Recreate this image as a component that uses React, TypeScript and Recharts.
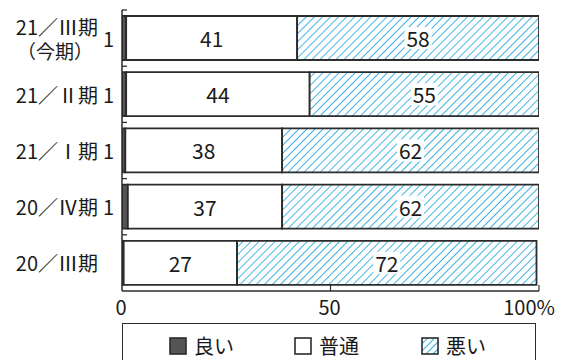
import React from "react";
import { BarChart, Bar, XAxis, YAxis, LabelList, Legend } from "recharts";

const categories = ["21／Ⅲ期\n（今期）", "21／Ⅱ期", "21／Ⅰ期", "20／Ⅳ期", "20／Ⅲ期"];
const good = [1, 1, 0.8, 1.4, 0.4];
const normal = [41, 44, 37.6, 37, 27.2];
const bad = [58, 55, 61.6, 61.6, 71.8];
const xTicks = [0, 50, 100];
const xTickLabels = ["0", "50", "100%"];
const seriesNames = ["良い", "普通", "悪い"];

const data = categories.map((name, i) => ({ name, good: good[i], normal: normal[i], bad: bad[i] }));

const FONT = "'Noto Sans CJK JP', 'Noto Sans', sans-serif";
const TEXT = "#1a1a1a";
const LINE = "#2b2b2b";
const HATCH = "#1fa9e1";
const W = 564;
const H = 360;
const M = { top: 10, right: 25, left: 0, bottom: 39 };
const X_AXIS_H = 30;
const PLOT_H = H - M.top - M.bottom - X_AXIS_H;
const BAND = PLOT_H / categories.length;

const YTick = (props: any) => {
  const { x, y, payload } = props;
  const lines = String(payload.value).split("\n");
  const tx = x - 24;
  return (
    <g>
      <line x1={x} y1={y - BAND / 2} x2={x + 5} y2={y - BAND / 2} stroke={LINE} strokeWidth={1.3} />
      {lines.length === 1 ? (
        <text x={tx} y={y} textAnchor="end" dominantBaseline="central" fontSize={20} fill={TEXT} fontFamily={FONT}>
          {lines[0]}
        </text>
      ) : (
        <g>
          <text x={tx} y={y - 12} textAnchor="end" dominantBaseline="central" fontSize={20} fill={TEXT} fontFamily={FONT}>
            {lines[0]}
          </text>
          <text x={tx - 43} y={y + 12} textAnchor="middle" dominantBaseline="central" fontSize={19} fill={TEXT} fontFamily={FONT}>
            {lines[1]}
          </text>
        </g>
      )}
    </g>
  );
};

const XTick = (props: any) => {
  const { x, y, payload, index } = props;
  const last = index === xTicks.length - 1;
  return (
    <g>
      {payload.value !== 0 && <line x1={x} y1={y} x2={x} y2={y - 6} stroke={LINE} strokeWidth={1.2} />}
      <text
        x={last ? x + 16 : x - 1}
        y={y + 24}
        textAnchor={last ? "end" : "middle"}
        fontSize={20}
        fill={TEXT}
        fontFamily={FONT}
      >
        {xTickLabels[xTicks.indexOf(payload.value)]}
      </text>
    </g>
  );
};

const CenterLabel = (props: any) => {
  const { x, y, width, height, value } = props;
  const txt = String(Math.round(value));
  const cx = x + width / 2;
  const cy = y + height / 2;
  const w = txt.length * 11.5 + 4;
  return (
    <g>
      <rect x={cx - w / 2} y={cy - 11} width={w} height={22} fill="#fff" />
      <text x={cx} y={cy} textAnchor="middle" dominantBaseline="central" fontSize={21} fill={TEXT} fontFamily={FONT}>
        {txt}
      </text>
    </g>
  );
};

const LeftLabel = (props: any) => {
  const { x, y, height, value } = props;
  const v = Math.round(value);
  if (v < 1) return null;
  return (
    <text x={x - 8} y={y + height / 2} textAnchor="end" dominantBaseline="central" fontSize={20} fill={TEXT} fontFamily={FONT}>
      {v}
    </text>
  );
};

const LegendContent = () => {
  const sw = (kind: number) => (
    <svg width={18} height={18} style={{ display: "block" }}>
      <defs>
        <pattern id="lgHatch" patternUnits="userSpaceOnUse" width={5} height={5} patternTransform="rotate(45)">
          <rect width={5} height={5} fill="#fff" />
          <line x1={0} y1={0} x2={0} y2={5} stroke={HATCH} strokeWidth={1.8} />
        </pattern>
      </defs>
      <rect
        x={1}
        y={1}
        width={16}
        height={16}
        fill={kind === 0 ? "#555" : kind === 1 ? "#fff" : "url(#lgHatch)"}
        stroke={LINE}
        strokeWidth={1.6}
      />
    </svg>
  );
  const lefts = [46, 171, 298];
  return (
    <div
      style={{
        position: "relative",
        width: 414,
        height: 50,
        border: `1.5px solid ${LINE}`,
        boxSizing: "border-box",
        background: "#fff",
      }}
    >
      {seriesNames.map((n, i) => (
        <div
          key={n}
          style={{
            position: "absolute",
            left: lefts[i],
            top: 12,
            display: "flex",
            alignItems: "center",
            gap: 7,
            fontFamily: FONT,
            fontSize: 20,
            color: TEXT,
            lineHeight: "20px",
          }}
        >
          {sw(i)}
          <span>{n}</span>
        </div>
      ))}
    </div>
  );
};

export default function App() {
  return (
    <div style={{ position: "absolute", left: 0, top: 0, width: W, height: H, background: "#fff", overflow: "hidden" }}>
      <BarChart width={W} height={H} data={data} layout="vertical" margin={M} barSize={44}>
        <defs>
          <pattern id="hatch" patternUnits="userSpaceOnUse" width={5.7} height={5.7} patternTransform="rotate(45)">
            <rect width={5.7} height={5.7} fill="#fff" />
            <line x1={0} y1={0} x2={0} y2={5.7} stroke={HATCH} strokeWidth={1.7} />
          </pattern>
        </defs>
        <XAxis
          type="number"
          domain={[0, 100]}
          ticks={xTicks}
          height={X_AXIS_H}
          tickLine={false}
          tickSize={0}
          tickMargin={0}
          tick={<XTick />}
          axisLine={{ stroke: LINE, strokeWidth: 1.5 }}
          allowDataOverflow
        />
        <YAxis
          type="category"
          dataKey="name"
          width={122}
          tickLine={false}
          tickSize={0}
          tickMargin={0}
          tick={<YTick />}
          axisLine={{ stroke: LINE, strokeWidth: 1.5 }}
          interval={0}
        />
        <Legend
          layout="horizontal"
          verticalAlign="middle"
          align="center"
          content={<LegendContent />}
          wrapperStyle={{ left: 122, top: 323, width: 414, height: 50, bottom: "auto", right: "auto" }}
        />
        <Bar dataKey="good" name={seriesNames[0]} stackId="a" fill="#555" stroke={LINE} strokeWidth={1.8} isAnimationActive={false}>
          <LabelList dataKey="good" content={<LeftLabel />} />
        </Bar>
        <Bar dataKey="normal" name={seriesNames[1]} stackId="a" fill="#fff" stroke={LINE} strokeWidth={1.8} isAnimationActive={false}>
          <LabelList dataKey="normal" content={<CenterLabel />} />
        </Bar>
        <Bar dataKey="bad" name={seriesNames[2]} stackId="a" fill="url(#hatch)" stroke={LINE} strokeWidth={1.8} isAnimationActive={false}>
          <LabelList dataKey="bad" content={<CenterLabel />} />
        </Bar>
      </BarChart>
    </div>
  );
}
